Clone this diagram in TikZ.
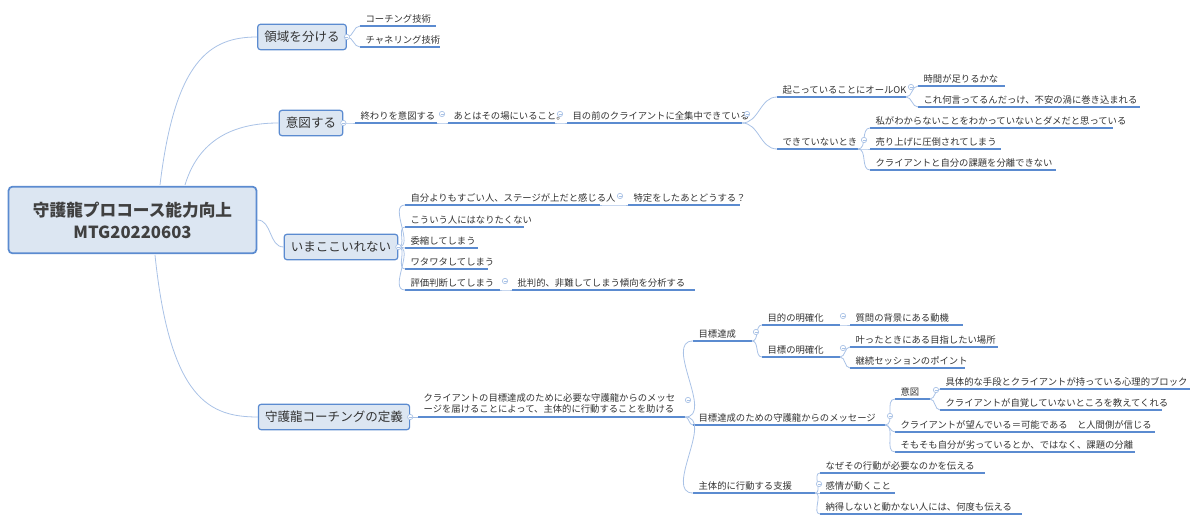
\documentclass[tikz,border=0pt]{standalone}
\usepackage{fontspec}
\setmainfont{Noto Sans CJK JP}
\usetikzlibrary{calc}
\definecolor{ulc}{HTML}{5B8BD0}
\definecolor{cnc}{HTML}{A9C2E6}
\definecolor{boxf}{HTML}{DCE6F2}
\definecolor{boxd}{HTML}{5B8BD0}
\definecolor{txt}{HTML}{333333}
\tikzset{
  lt/.style={anchor=south west,inner sep=1pt,text=txt,font=\fontsize{7}{8.5}\selectfont},
  ul/.style={draw=ulc,line width=0.9pt},
  cn/.style={draw=cnc,line width=0.6pt},
  mt/.style={draw=boxd,fill=boxf,rounded corners=2pt,line width=0.9pt,text=black!80,font=\fontsize{9.4}{11}\selectfont,minimum height=19pt,inner xsep=5pt},
  mk/.style={draw=cnc,line width=0.5pt,fill=white}
}
\newcommand\lf[5]{\coordinate (#1-s) at (#2,#4); \coordinate (#1-e) at (#3,#4);
  \node[lt] (#1) at (#2+4,#4-1) {#5}; \draw[ul] (#1-s)--(#1-e);}
\newcommand\cn[2]{\draw[cn] (#1) to[out=0,in=180] (#2);}
\newcommand\mk[1]{\draw[mk] ($(#1)$) circle[radius=2pt]; \draw[cnc,line width=0.4pt] ($(#1)+(-1.5,0)$)--($(#1)+(1.5,0)$);}
\begin{document}
\begin{tikzpicture}[x=0.75pt,y=-0.75pt]
\useasboundingbox (0,0) rectangle (1200,523);
% central
\node[draw=boxd,fill=boxf,rounded corners=3pt,line width=1.3pt,minimum width=186pt,minimum height=50pt,align=center,text=black!75,font=\bfseries\fontsize{12.5}{16.5}\selectfont] (C) at (132.5,220) {守護龍プロコース能力向上\\MTG20220603};
% main topics
\node[mt] (A) at (302,37) {領域を分ける};
\node[mt] (B) at (311,123) {意図する};
\node[mt] (D) at (341,247) {いまここいれない};
\node[mt] (E) at (334,417) {守護龍コーチングの定義};
\draw[cn] (160,185) .. controls (175,60) and (210,37) .. (A.west);
\draw[cn] (185,185) .. controls (200,135) and (240,123) .. (B.west);
\draw[cn] (C.east) to[out=0,in=180] (D.west);
\draw[cn] (155,255) .. controls (170,400) and (210,417) .. (E.west);
% 領域
\lf{a1}{360}{436}{26}{コーチング技術}
\lf{a2}{360}{440}{47}{チャネリング技術}
\cn{A.east}{a1-s} \cn{A.east}{a2-s} \mk{A.east}
% 意図
\lf{b1}{355}{437}{123}{終わりを意図する}
\lf{b2}{448}{555}{123}{あとはその場にいること。}
\lf{b3}{567}{742}{123}{目の前のクライアントに全集中できている}
\lf{b4}{777}{906}{97}{起こっていることにオールOK}
\lf{b5}{777}{858}{149}{できていないとき}
\lf{b6}{918}{1005}{86}{時間が足りるかな}
\lf{b7}{918}{1140}{107}{これ何言ってるんだっけ、不安の渦に巻き込まれる}
\lf{b8}{870}{1113}{128}{私がわからないことをわかっていないとダメだと思っている}
\lf{b9}{870}{1001}{149}{売り上げに圧倒されてしまう}
\lf{b10}{870}{1056}{170}{クライアントと自分の課題を分離できない}
\cn{B.east}{b1-s} \cn{b1-e}{b2-s} \cn{b2-e}{b3-s}
\cn{b3-e}{b4-s} \cn{b3-e}{b5-s}
\cn{b4-e}{b6-s} \cn{b4-e}{b7-s}
\cn{b5-e}{b8-s} \cn{b5-e}{b9-s} \cn{b5-e}{b10-s}
\mk{B.east} \mk{442,114} \mk{560,114} \mk{747,114} \mk{911,87} \mk{864,140}
% いまここ
\lf{d1}{405}{600}{205}{自分よりもすごい人、ステージが上だと感じる人}
\lf{d2}{628}{740}{205}{特定をしたあとどうする？}
\lf{d3}{405}{524}{227}{こういう人にはなりたくない}
\lf{d4}{405}{478}{248}{委縮してしまう}
\lf{d5}{405}{488}{269}{ワタワタしてしまう}
\lf{d6}{405}{500}{290}{評価判断してしまう}
\lf{d7}{512}{695}{290}{批判的、非難してしまう傾向を分析する}
\cn{D.east}{d1-s} \cn{D.east}{d3-s} \cn{D.east}{d4-s} \cn{D.east}{d5-s} \cn{D.east}{d6-s}
\cn{d1-e}{d2-s} \cn{d6-e}{d7-s}
\mk{D.east} \mk{620,196} \mk{505,281}
% 定義
\coordinate (e0-s) at (418,417); \coordinate (e0-e) at (685,417);
\node[lt,align=left] (e0) at (422,415) {クライアントの目標達成のために必要な守護龍からのメッセ\\ージを届けることによって、主体的に行動することを助ける};
\draw[ul] (e0-s)--(e0-e);
\cn{E.east}{e0-s} \mk{E.east} \mk{688,400}
\lf{e1}{693}{752}{341}{目標達成}
\lf{e2}{693}{885}{425}{目標達成のための守護龍からのメッセージ}
\lf{e3}{693}{815}{493}{主体的に行動する支援}
\cn{e0-e}{e1-s} \cn{e0-e}{e2-s} \cn{e0-e}{e3-s}
\lf{e4}{762}{840}{325}{目的の明確化}
\lf{e5}{762}{840}{357}{目標の明確化}
\cn{e1-e}{e4-s} \cn{e1-e}{e5-s} \mk{756,332}
\lf{e6}{850}{963}{325}{質問の背景にある動機}
\lf{e7}{850}{998}{347}{叶ったときにある目指したい場所}
\lf{e8}{850}{965}{368}{継続セッションのポイント}
\cn{e4-e}{e6-s} \cn{e5-e}{e7-s} \cn{e5-e}{e8-s} \mk{843,316} \mk{843,348}
\lf{e9}{895}{930}{399}{意図}
\lf{e10}{895}{1155}{432}{クライアントが望んでいる＝可能である　と人間側が信じる}
\lf{e11}{895}{1135}{452}{そもそも自分が劣っているとか、ではなく、課題の分離}
\cn{e2-e}{e9-s} \cn{e2-e}{e10-s} \cn{e2-e}{e11-s} \mk{890,416}
\lf{e12}{940}{1190}{389}{具体的な手段とクライアントが持っている心理的ブロック}
\lf{e13}{940}{1162}{410}{クライアントが自覚していないところを教えてくれる}
\cn{e9-e}{e12-s} \cn{e9-e}{e13-s} \mk{936,390}
\lf{e14}{820}{985}{473}{なぜその行動が必要なのかを伝える}
\lf{e15}{820}{895}{493}{感情が動くこと}
\lf{e16}{820}{1022}{514}{納得しないと動かない人には、何度も伝える}
\cn{e3-e}{e14-s} \cn{e3-e}{e15-s} \cn{e3-e}{e16-s} \mk{819,484}
\end{tikzpicture}
\end{document}
